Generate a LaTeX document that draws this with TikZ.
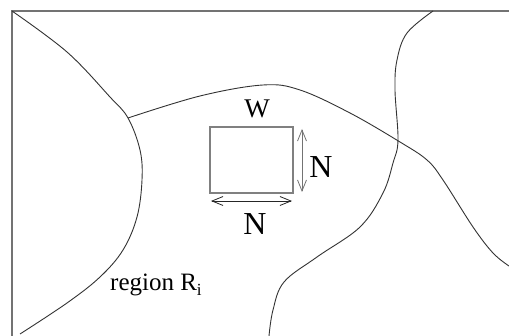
\documentclass[tikz,border=0pt]{standalone}
\usepackage{fontspec}
\setmainfont{Liberation Serif}
\usetikzlibrary{arrows.meta}
\begin{document}
\begin{tikzpicture}[x=1pt,y=-1pt,
  curve/.style={line width=0.9pt,black!80},
  frame/.style={line width=1.1pt,black!55},
  win/.style={draw=black!50,line width=1.1pt,minimum width=83pt,minimum height=66pt,inner sep=0pt},
  dim/.style={line width=0.8pt,{Straight Barb[length=11pt,width=9pt]}-{Straight Barb[length=11pt,width=9pt]}},
  lab/.style={inner sep=0pt,font=\fontsize{32}{32}\selectfont}]
\useasboundingbox (0,0) rectangle (509,336);
\fill[white] (0,0) rectangle (509,336);
\draw[frame] (509,11) -- (12,11) -- (12,336);
% curves
\draw[curve] plot[smooth,tension=0.6] coordinates {(12,11) (67,52) (110,97) (128,118) (140,150) (142,180) (137,217) (123,250) (100,277) (67,303) (20,334)};
\draw[curve] plot[smooth,tension=0.6] coordinates {(128,118) (200,96) (263,85) (300,90) (350,113) (400,142) (427,160) (443,180) (473,227) (493,253) (509,266)};
\draw[curve] plot[smooth,tension=0.6] coordinates {(433,11) (407,33) (397,60) (395,90) (398,140) (393,163) (383,193) (360,227) (317,257) (284,282) (273,310) (269,336)};
% window
\node[win] (w) at (251.5,160) {};
\node[lab,font=\fontsize{27}{27}\selectfont] (wl) at (257,109) {W};
\coordinate (va) at (302,129);
\coordinate (vb) at (302,192);
\draw[dim,black!55] (va) -- (vb);
\coordinate (ha) at (211,201);
\coordinate (hb) at (292,201);
\draw[dim,black!85] (ha) -- (hb);
\node[lab] (nr) at (321,167) {N};
\node[lab] (nb) at (255,224) {N};
\node[inner sep=0pt,font=\fontsize{25}{25}\selectfont,anchor=west] (reg) at (110,285) {region R\raisebox{-5pt}{\fontsize{17}{17}\selectfont i}};
\end{tikzpicture}
\end{document}
